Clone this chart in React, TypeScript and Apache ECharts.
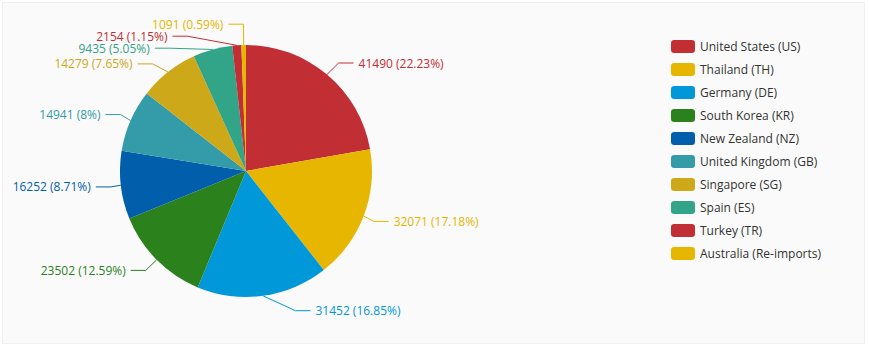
import React, { useEffect, useRef } from "react";
import * as echarts from "echarts";

const categories = [
  "United States (US)",
  "Thailand (TH)",
  "Germany (DE)",
  "South Korea (KR)",
  "New Zealand (NZ)",
  "United Kingdom (GB)",
  "Singapore (SG)",
  "Spain (ES)",
  "Turkey (TR)",
  "Australia (Re-imports)",
];
const values = [41490, 32071, 31452, 23502, 16252, 14941, 14279, 9435, 2154, 1091];
const palette = [
  "#c12e34",
  "#e6b600",
  "#0098d9",
  "#2b821d",
  "#005eaa",
  "#339ca8",
  "#cda819",
  "#32a487",
];

const FONT = "'Segoe UI', 'Open Sans', sans-serif";

// pie geometry (chart pixel space)
const CX = 243;
const CY = 168;
const R = 126;
const LEN = 15;
const LEN2 = 15;
const DIST = 5;
const LABEL_H = 12;
const VIEW_H = 342;

type Item = {
  i: number;
  dir: number;
  x: number;
  y: number;
  height: number;
  p1: number[];
};

// classic outer-label layout: shift overlapping labels, then align them on a circle
function adjustSingleSide(list: Item[], dir: number) {
  list.sort((a, b) => a.y - b.y);
  const len = list.length;
  function shiftUp(end: number, delta: number) {
    for (let j = end; j >= 0; j--) {
      if (list[j].y - delta < 0) break;
      list[j].y -= delta;
      if (j > 0 && list[j].y > list[j - 1].y + list[j - 1].height) break;
    }
  }
  function shiftDown(start: number, end: number, delta: number) {
    for (let j = start; j < end; j++) {
      if (list[j].y + delta > VIEW_H) break;
      list[j].y += delta;
      if (j > start && j + 1 < end && list[j + 1].y > list[j].y + list[j].height) {
        shiftUp(j, delta / 2);
        return;
      }
    }
    shiftUp(end - 1, delta / 2);
  }
  function changeX(sub: Item[], isDown: boolean) {
    let last = isDown ? Number.MAX_VALUE : 0;
    for (const it of sub) {
      const dy = Math.abs(it.y - CY);
      let dx =
        dy < R + LEN
          ? Math.sqrt((R + LEN + LEN2) * (R + LEN + LEN2) - dy * dy)
          : Math.abs(it.x - CX);
      if (isDown && dx >= last) dx = last - 10;
      if (!isDown && dx <= last) dx = last + 10;
      it.x = CX + dx * dir;
      last = dx;
    }
  }
  let lastY = 0;
  for (let i = 0; i < len; i++) {
    const delta = list[i].y - lastY;
    if (delta < 0) shiftDown(i, len, -delta);
    lastY = list[i].y + list[i].height;
  }
  if (VIEW_H - lastY < 0) shiftUp(len - 1, lastY - VIEW_H);
  const up = list.filter((it) => it.y < CY);
  const down = list.filter((it) => it.y >= CY);
  changeX(up, false);
  changeX(down, true);
}

function computeLabels() {
  const total = values.reduce((a, b) => a + b, 0);
  let acc = 0;
  const items: Item[] = values.map((v, i) => {
    const mid = ((acc + v / 2) / total) * Math.PI * 2;
    acc += v;
    const dx = Math.sin(mid);
    const dy = -Math.cos(mid);
    const dir = dx < 0 ? -1 : 1;
    const x2 = CX + (R + LEN) * dx;
    const y2 = CY + (R + LEN) * dy;
    return {
      i,
      dir,
      x: x2 + dir * (LEN2 + DIST),
      y: y2,
      height: LABEL_H,
      p1: [CX + R * dx, CY + R * dy],
    };
  });
  adjustSingleSide(items.filter((it) => it.dir < 0), -1);
  adjustSingleSide(items.filter((it) => it.dir > 0), 1);
  const out: Record<number, any> = {};
  for (const it of items) {
    const end = it.x - it.dir * DIST;
    const elbow = end - it.dir * LEN2;
    out[it.i] = {
      x: it.x,
      y: it.y,
      align: it.dir < 0 ? "right" : "left",
      verticalAlign: "middle",
      labelLinePoints: [it.p1, [elbow, it.y], [end, it.y]],
    };
  }
  return out;
}

export default function App() {
  const ref = useRef<HTMLDivElement>(null);
  useEffect(() => {
    if (!ref.current) return;
    const chart = echarts.init(ref.current, null, { renderer: "svg" });
    const labels = computeLabels();
    chart.setOption({
      animation: false,
      color: palette,
      textStyle: { fontFamily: FONT },
      legend: {
        orient: "vertical",
        left: 668,
        top: 37,
        padding: 0,
        itemWidth: 24,
        itemHeight: 13,
        itemGap: 10,
        icon: "roundRect",
        textStyle: { fontSize: 12, color: "#333", fontFamily: FONT },
        data: categories,
      },
      series: [
        {
          type: "pie",
          center: [CX, CY],
          radius: R,
          startAngle: 90,
          avoidLabelOverlap: false,
          data: categories.map((name, i) => ({ name, value: values[i] })),
          label: {
            formatter: "{c} ({d}%)",
            fontSize: 12,
            lineHeight: 11,
            fontFamily: FONT,
            color: "inherit",
          },
          labelLine: { length: LEN, length2: LEN2, lineStyle: { width: 1 } },
          labelLayout: (params: any) => labels[params.dataIndex],
          itemStyle: { borderWidth: 0 },
        },
      ],
    });
    return () => chart.dispose();
  }, []);
  return (
    <div
      style={{
        position: "absolute",
        left: 0,
        top: 0,
        width: 869,
        height: 348,
        background: "#ffffff",
      }}
    >
      <div
        ref={ref}
        style={{
          position: "absolute",
          left: 2,
          top: 2,
          width: 863,
          height: 342,
          background: "#fafafa",
          border: "1px solid #f0f0f0",
          boxSizing: "border-box",
        }}
      />
    </div>
  );
}
